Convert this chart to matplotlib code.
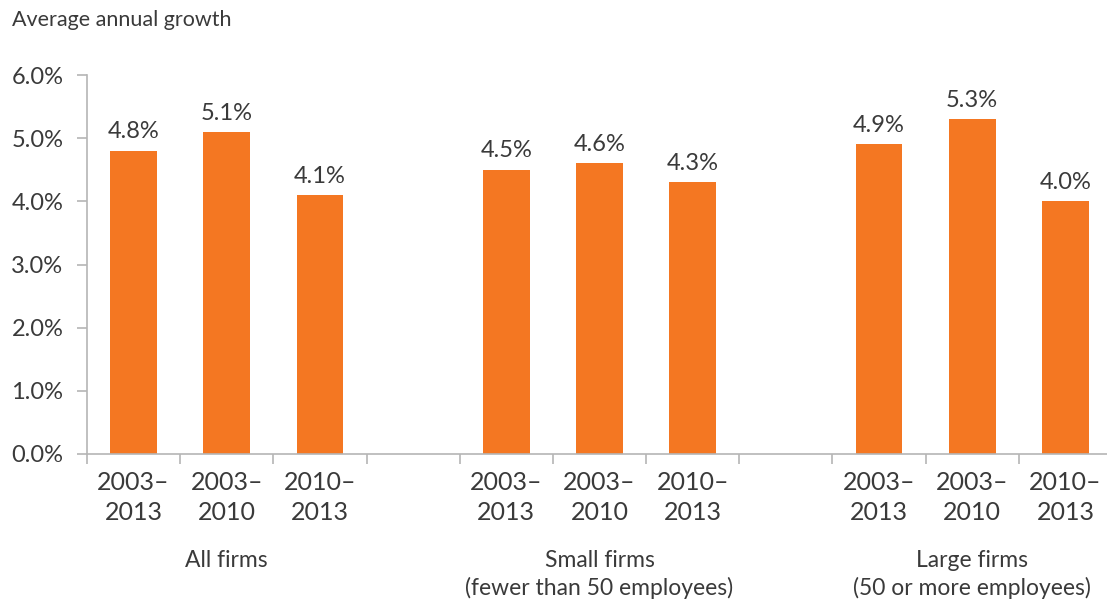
import matplotlib.pyplot as plt

plt.rcParams["font.family"] = ["Lato", "DejaVu Sans"]

# Data
groups = ["All firms", "Small firms\n(fewer than 50 employees)", "Large firms\n(50 or more employees)"]
periods = ["2003\u2013\n2013", "2003\u2013\n2010", "2010\u2013\n2013"]
all_firms = [4.8, 5.1, 4.1]
small_firms = [4.5, 4.6, 4.3]
large_firms = [4.9, 5.3, 4.0]
y_ticks = [0, 1, 2, 3, 4, 5, 6]

ORANGE = "#F47722"
TEXT = "#3a3a3a"
AXIS = "#b5b5b5"

W, H = 1107, 604
fig = plt.figure(figsize=(W / 100, H / 100), dpi=100)
ax = fig.add_axes([87 / W, 150 / H, (1112 - 87) / W, 379 / H])

series = [all_firms, small_firms, large_firms]
positions = []
values = []
labels = []
for g, vals in enumerate(series):
    for j, v in enumerate(vals):
        positions.append(g * 4 + j)
        values.append(v)
        labels.append(periods[j])

bars = ax.bar(positions, values, width=0.5, color=ORANGE, zorder=2)
for b, v in zip(bars, values):
    ax.annotate(f"{v:.1f}%", (b.get_x() + b.get_width() / 2, v),
                xytext=(0, 6), textcoords="offset points",
                ha="center", va="bottom", fontsize=17, color=TEXT)

ax.set_xlim(-0.5, 10.5)
ax.set_ylim(0, 6)
ax.set_yticks(y_ticks)
ax.set_yticklabels([f"{t:.1f}%" for t in y_ticks])

# boundary tick marks, labels at bar centres
ax.set_xticks([i - 0.5 for i in range(12)])
ax.set_xticklabels([])
ax.set_xticks(positions, minor=True)
ax.set_xticklabels(labels, minor=True, fontsize=18, color=TEXT, linespacing=1.4)
ax.tick_params(axis="x", which="minor", length=0, pad=12)
ax.tick_params(axis="x", which="major", length=7, width=1.2, color=AXIS)
ax.tick_params(axis="y", length=7, width=1.2, color=AXIS, labelsize=17,
               labelcolor=TEXT, pad=10)

for s in ["top", "right"]:
    ax.spines[s].set_visible(False)
for s in ["left", "bottom"]:
    ax.spines[s].set_color(AXIS)
    ax.spines[s].set_linewidth(1.2)

for g, name in enumerate(groups):
    ax.text(g * 4 + 1, -1.52, name, ha="center", va="top", fontsize=16.5,
            color=TEXT, linespacing=1.35)

fig.text(12 / W, 1 - 20 / H, "Average annual growth", ha="left", va="center",
         fontsize=15.5, color=TEXT)

fig.savefig("out.png", dpi=100)
